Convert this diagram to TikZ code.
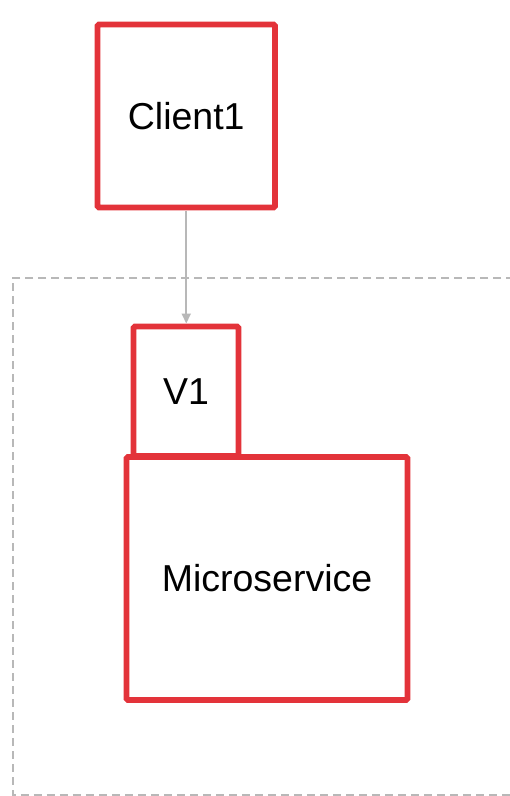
\documentclass[tikz,border=0pt]{standalone}
\usepackage{fontspec}
\setmainfont{Liberation Sans}
\usetikzlibrary{arrows.meta}
\definecolor{boxred}{HTML}{E3333A}
\definecolor{linegray}{HTML}{B8B8B8}
\tikzset{
  redbox/.style={draw=boxred, line width=5.8pt, rounded corners=1.5pt, inner sep=0pt, outer sep=0pt,
    font=\fontsize{37.5}{42}\selectfont, text=black},
  conn/.style={draw=linegray, line width=2pt, -{Triangle[length=10pt,width=9pt]}},
  frame/.style={draw=linegray, line width=2pt, dash pattern=on 8pt off 5pt}
}
\begin{document}
\begin{tikzpicture}[x=1pt,y=-1pt]
\useasboundingbox (0,0) rectangle (510,796);
\fill[white] (0,0) rectangle (510,796);
\draw[frame] (540,277.5) -- (12.5,277.5) -- (12.5,794.5) -- (540,794.5);
\node[redbox, minimum width=177.5pt, minimum height=183pt] (client) at (186.25,116) {Client1};
\node[redbox, minimum width=105pt, minimum height=129.5pt] (v1) at (186,391.25) {V1};
\node[redbox, minimum width=281pt, minimum height=243pt] (ms) at (267,578.5) {Microservice};
\draw[conn] ([yshift=-3pt]client.south) -- ([yshift=3pt]client.south |- v1.north);
\end{tikzpicture}
\end{document}
